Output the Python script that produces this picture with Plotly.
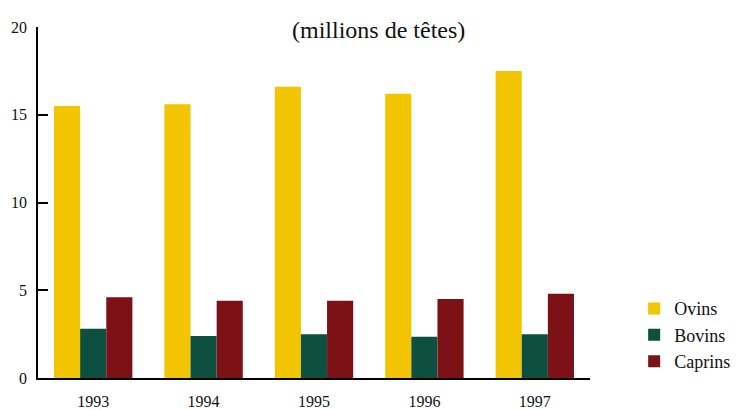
import plotly.graph_objects as go

years = ["1993", "1994", "1995", "1996", "1997"]
ovins = [15.5, 15.6, 16.6, 16.2, 17.5]
bovins = [2.8, 2.4, 2.5, 2.35, 2.5]
caprins = [4.6, 4.4, 4.4, 4.5, 4.8]
y_ticks = [0, 5, 10, 15, 20]

FONT = "Liberation Serif"

fig = go.Figure()
fig.add_trace(go.Bar(name="Ovins", x=years, y=ovins,
                     marker=dict(color="#F2C500", line=dict(width=0))))
fig.add_trace(go.Bar(name="Bovins", x=years, y=bovins,
                     marker=dict(color="#0D4F40", line=dict(width=0))))
fig.add_trace(go.Bar(name="Caprins", x=years, y=caprins,
                     marker=dict(color="#7C1216", line=dict(width=0))))

fig.update_layout(
    width=739, height=402,
    margin=dict(l=30, r=157, t=19, b=32),
    paper_bgcolor="white", plot_bgcolor="white",
    barmode="group", bargap=0.29, bargroupgap=0,
    font=dict(family=FONT, size=16, color="#111"),
    showlegend=True,
    legend=dict(x=1.08, y=0.25, xanchor="left", yanchor="top",
                font=dict(family=FONT, size=18), tracegroupgap=3,
                itemwidth=30, bgcolor="rgba(0,0,0,0)"),
    annotations=[dict(text="(millions de têtes)", x=0.616, y=1.0, xref="paper",
                      yref="paper", xanchor="center", yanchor="bottom",
                      yshift=-18, showarrow=False,
                      font=dict(family=FONT, size=24, color="#111"))],
)
fig.update_xaxes(showline=True, linecolor="black", linewidth=1.5,
                 showgrid=False, ticks="", tickfont=dict(size=16),
                 ticklabelstandoff=8, automargin=False)
fig.update_yaxes(range=[0, 20], tickvals=y_ticks, showline=True,
                 linecolor="black", linewidth=1.5, showgrid=False,
                 zeroline=False, ticks="inside", ticklen=10, tickwidth=1.5,
                 tickcolor="black", tickfont=dict(size=16), ticklabelstandoff=6,
                 automargin=False)

fig.write_html("out.html")
